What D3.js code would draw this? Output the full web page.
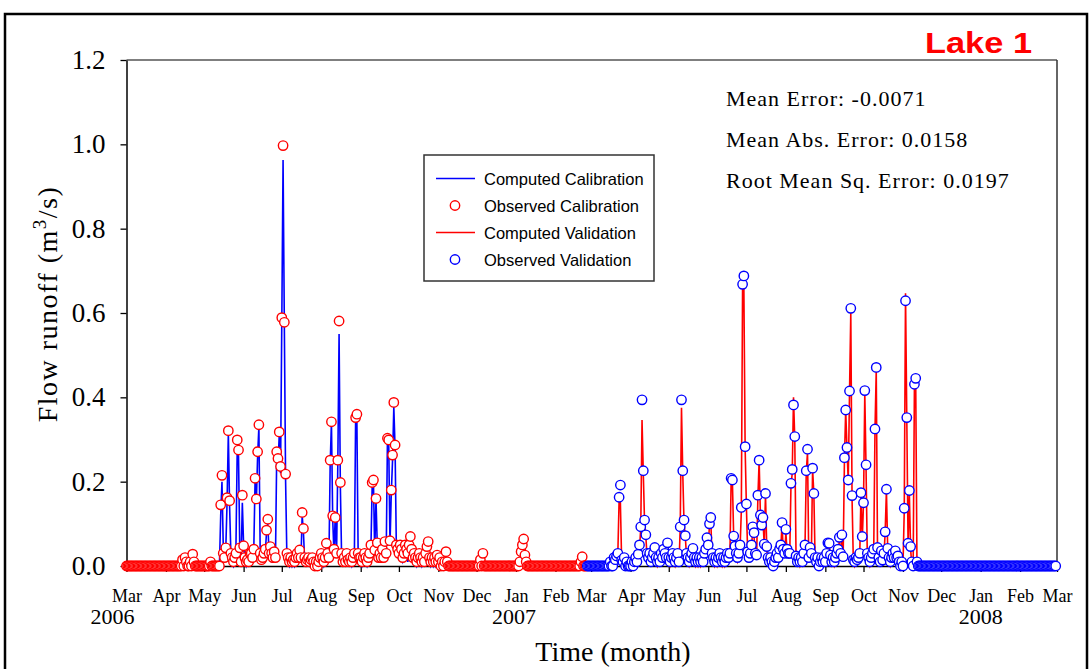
<!DOCTYPE html>
<html><head><meta charset="utf-8">
<script src="https://cdn.jsdelivr.net/npm/d3@7"></script>
<style>body{margin:0;background:#fff}svg{display:block}</style>
</head><body><svg id="c" width="1090" height="669"></svg>
<script>
// ---------- DATA (daily values, m3/s) ----------
const calRowStart = ["2006-03-01","2006-04-01","2006-05-01","2006-06-01","2006-07-01","2006-08-01",
  "2006-09-01","2006-10-01","2006-11-01","2006-12-01","2007-01-01","2007-02-01"];
const obsCalRows = [
 [0,0,0,0,0,0,0,0,0,0, 0,0,0,0,0,0,0,0,0,0, 0,0,0,0,0,0,0,0,0,0, 0],
 [0,0,0,0,0,0,0,0,0,0, 0,0,0,.015,0,.02,.01,0,0,.01, 0,.028,.01,0,0,0,0,0,0,0],
 [0,0,0,0,0,.01,0,0,0,0, 0,0,0,.145,.215,.03,.02,.043,.162,.321, .155,.03,.02,.01,.02,.03,.299,.275,.043,.01, .168],
 [.048,.02,.01,.015,.01,.03,.03,.02,.04,.208, .159,.271,.335,.03,.015,.02,.03,.04,.085,.111, .03,.046,.03,.02,.034,.02,.271,.255,.318,.236],
 [.589,.997,.578,.218,.03,.02,.01,.02,.01,.015, .01,.02,.03,.02,.038,.02,.127,.089,.02,.01, .015,.02,.01,.015,.02,.01,0,.01,0,.01, .02],
 [.03,.02,.01,.02,.054,.03,.02,.251,.342,.119, .04,.115,.03,.251,.581,.198,.03,.01,.02,.01, .03,.015,.01,.02,.01,.02,.03,.352,.36,.03, .02],
 [.02,.01,.02,.03,.02,.01,.02,.03,.05,.198, .204,.038,.16,.055,.02,.03,.02,.04,.02,.058, .03,.303,.299,.06,.18,.263,.388,.287,.05,.04],
 [.03,.05,.04,.02,.03,.05,.04,.03,.05,.07, .04,.02,.03,.02,.01,.02,.03,.02,.01,.02, .01,.03,.046,.058,.02,.01,.02,.01,.02,.01, .026],
 [.01,.02,0,.01,0,.01,.034,.01,0,0, 0,0,0,0,0,0,0,0,0,0, 0,0,0,0,0,0,0,0,0,0],
 [0,0,0,.015,0,.03,0,0,0,0, 0,0,0,0,0,0,0,0,0,0, 0,0,0,0,0,0,0,0,0,0, 0],
 [0,0,0,.01,.034,.05,.064,.026,.01,0, 0,0,0,0,0,0,0,0,0,0, 0,0,0,0,0,0,0,0,0,0, 0],
 [0,0,0,0,0,0,0,0,0,0, 0,0,0,0,0,0,0,0,0,0, .01,.022,0,0,0]
];
const compCalRows = [
 [0,0,0,0,0,0,0,0,0,0, 0,0,0,0,0,0,0,0,0,0, 0,0,0,0,0,0,0,0,0,0, 0],
 [0,0,0,0,0,0,0,0,0,0, 0,0,0,0,0,0,0,0,0,0, 0,0,0,0,0,0,0,0,0,0],
 [0,0,0,0,0,0,0,0,0,0, 0,0,0,.12,.2,.05,.02,.04,.15,.315, .14,.03,.01,0,.01,.05,.28,.26,.04,.01, .15],
 [.05,.01,0,.01,0,.02,.02,.01,.04,.2, .15,.26,.33,.04,.01,.01,.02,.03,.08,.1, .03,.04,.01,.01,.03,.01,.26,.24,.31,.22],
 [.58,.963,.57,.2,.02,.01,0,.01,0,.01, 0,.01,.02,.01,.03,.01,.12,.08,.01,0, 0,.01,0,0,.01,0,0,0,0,0, .01],
 [.02,.01,0,.01,.05,.01,.01,.24,.34,.11, .03,.12,.02,.24,.55,.19,.02,0,.01,0, .02,0,0,.01,0,.01,.02,.35,.34,.02, .01],
 [.01,0,.01,.02,.01,0,.01,.02,.04,.19, .2,.03,.16,.05,.01,.02,.01,.03,.01,.05, .02,.3,.29,.05,.17,.25,.377,.28,.04,.02],
 [.02,.03,.02,.01,.02,.03,.02,.01,.03,.05, .02,.01,.01,.01,0,.01,.01,.01,0,.01, 0,.02,.04,.04,.01,0,.01,0,.01,0, .01],
 [0,.01,0,0,0,0,.02,0,0,0, 0,0,0,0,0,0,0,0,0,0, 0,0,0,0,0,0,0,0,0,0],
 [0,0,0,0,0,.01,0,0,0,0, 0,0,0,0,0,0,0,0,0,0, 0,0,0,0,0,0,0,0,0,0, 0],
 [0,0,0,0,.02,.02,.03,.01,0,0, 0,0,0,0,0,0,0,0,0,0, 0,0,0,0,0,0,0,0,0,0, 0],
 [0,0,0,0,0,0,0,0,0,0, 0,0,0,0,0,0,0,0,0,0, 0,0,0,0,0]
];
const valRowStart = ["2007-02-26","2007-03-01","2007-04-01","2007-05-01","2007-06-01","2007-07-01",
  "2007-08-01","2007-09-01","2007-10-01","2007-11-01","2007-12-01","2008-01-01","2008-02-01"];
const obsValRows = [
 [0,0,0],
 [0,0,0,0,0,0,0,0,0,0, 0,0,0,0,0,.01,0,0,.02,.015, .024,.03,.163,.192,.014,.01,.02,0,.01,0, 0],
 [0,.01,0,.01,.02,.01,.028,.05,.093,.394, .226,.109,.074,.03,.02,.03,.01,.02,.03,.044, .02,.01,.02,.01,.03,.02,.04,.03,.02,.055],
 [.02,.01,.02,.03,.02,.01,.02,.03,.01,.093, .394,.226,.109,.072,.03,.02,.01,.02,.03,.042, .02,.01,.02,.01,.02,.01,.02,.01,.03,.04, .067],
 [.05,.1,.115,.03,.02,.01,.02,.01,.02,.03, .02,.01,.02,.01,.02,.03,.02,.03,.208,.204, .071,.047,.03,.02,.03,.05,.139,.668,.688,.283],
 [.147,.034,.02,.03,.05,.093,.079,.03,.026,.168, .251,.121,.097,.115,.052,.172,.046,.02,.01,.02, .01,0,.01,.02,.03,.02,.04,.05,.103,.04, .03],
 [.087,.04,.03,.03,.196,.229,.382,.307,.024,.01, .02,.01,.02,.01,.03,.05,.226,.277,.02,.044, .03,.232,.172,.02,.01,.02,0,.01,.02,.01, .02],
 [.01,.03,.055,.054,.026,.01,.02,.01,.02,.03, .04,.068,.03,.074,.022,.257,.37,.281,.204,.415, .611,.167,.015,.01,.02,.015,.02,.03,.174,.07],
 [.15,.416,.24,.03,.02,.01,.02,.03,.04,.325, .471,.044,.02,.01,.036,.014,.03,.081,.182,.042, .02,.01,.02,.03,.02,.036,.02,.024,.01,0, .01],
 [0,.137,.629,.352,.054,.179,.046,.01,0,.431, .445,.01,0,0,0,0,0,0,0,0, 0,0,0,0,0,0,0,0,0,0],
 [0,0,0,0,0,0,0,0,0,0, 0,0,0,0,0,0,0,0,0,0, 0,0,0,0,0,0,0,0,0,0, 0],
 [0,0,0,0,0,0,0,0,0,0, 0,0,0,0,0,0,0,0,0,0, 0,0,0,0,0,0,0,0,0,0, 0],
 [0,0,0,0,0,0,0,0,0,0, 0,0,0,0,0,0,0,0,0,0, 0,0,0,0,0,0,0,0,0]
];
const compValRows = [
 [0,0,0],
 [0,0,0,0,0,0,0,0,0,0, 0,0,0,0,0,0,0,0,.01,.01, .02,.03,.157,.15,.01,0,.01,0,0,0, 0],
 [0,0,0,0,.01,0,.02,.04,.09,.346, .22,.1,.07,.02,.01,.02,0,.01,.02,.04, .01,0,.01,0,.02,.01,.03,.02,.01,.05],
 [.01,0,.01,.02,.01,0,.01,.02,0,.09, .375,.22,.1,.07,.02,.01,0,.01,.02,.04, .01,0,.01,0,.01,0,.01,0,.02,.03, .06],
 [.04,.1,.11,.02,.01,0,.01,0,.01,.02, .01,0,.01,0,.01,.02,.01,.02,.2,.2, .07,.04,.02,.01,.02,.04,.13,.666,.66,.28],
 [.14,.03,.01,.02,.04,.09,.07,.02,.02,.16, .25,.12,.09,.11,.05,.17,.04,.01,0,.01, 0,0,0,.01,.02,.01,.03,.04,.1,.03, .02],
 [.08,.03,.02,.02,.19,.22,.40,.3,.02,0, .01,0,.01,0,.02,.04,.22,.27,.01,.04, .02,.23,.17,.01,0,.01,0,0,.01,0, .01],
 [0,.02,.05,.05,.02,0,.01,0,.01,.02, .03,.06,.02,.07,.02,.25,.37,.28,.2,.41, .6,.16,.01,0,.01,.01,.01,.02,.17,.06],
 [.15,.41,.23,.02,.01,0,.01,.02,.03,.32, .465,.04,.01,0,.03,.01,.02,.08,.18,.04, .01,0,.01,.02,.01,.03,.01,.02,0,0, 0],
 [0,.13,.647,.35,.05,.17,.04,0,0,.43, .44,0,0,0,0,0,0,0,0,0, 0,0,0,0,0,0,0,0,0,0],
 [0,0,0,0,0,0,0,0,0,0, 0,0,0,0,0,0,0,0,0,0, 0,0,0,0,0,0,0,0,0,0, 0],
 [0,0,0,0,0,0,0,0,0,0, 0,0,0,0,0,0,0,0,0,0, 0,0,0,0,0,0,0,0,0,0, 0],
 [0,0,0,0,0,0,0,0,0,0, 0,0,0,0,0,0,0,0,0,0, 0,0,0,0,0,0,0,0,0]
];
const yTicks = [0, 0.2, 0.4, 0.6, 0.8, 1.0, 1.2];
const yearLabels = [["2006","2006-03-01",-14],["2007","2007-01-01",-2],["2008","2008-01-01",0]];
const legendLabels = ["Computed Calibration","Observed Calibration","Computed Validation","Observed Validation"];
const statLines = ["Mean Error: -0.0071","Mean Abs. Error: 0.0158","Root Mean Sq. Error: 0.0197"];
const titleText = "Lake 1";

// ---------- BUILD ----------
const parse = d3.utcParse("%Y-%m-%d");
function expand(starts, rows){
  const out = [];
  starts.forEach((s,i)=>{ const d0 = parse(s);
    rows[i].forEach((v,j)=> out.push({date: d3.utcDay.offset(d0,j), value: v})); });
  return out;
}
const obsCal = expand(calRowStart, obsCalRows), compCal = expand(calRowStart, compCalRows);
const obsVal = expand(valRowStart, obsValRows), compVal = expand(valRowStart, compValRows);

const serif = "'Times New Roman','Liberation Serif',serif";
const sans = "Arial,'Liberation Sans',sans-serif";
const BLUE = "#0000ff", RED = "#ff0000";

const svg = d3.select("#c");
svg.append("rect").attr("width",1090).attr("height",669).attr("fill","#fff");
// outer frame
svg.append("rect").attr("x",5).attr("y",14).attr("width",1082).attr("height",680)
  .attr("fill","none").attr("stroke","#000").attr("stroke-width",2.5);

const x = d3.scaleUtc().domain([parse("2006-03-01"), parse("2008-03-01")]).range([126.5, 1057]);
const y = d3.scaleLinear().domain([0, 1.2]).range([566, 60]);

// plot box top and right
svg.append("line").attr("x1",126.5).attr("x2",1057).attr("y1",60).attr("y2",60)
  .attr("stroke","#555").attr("stroke-width",1.5);
svg.append("line").attr("x1",1057).attr("x2",1057).attr("y1",60).attr("y2",566)
  .attr("stroke","#333").attr("stroke-width",1.5);

// axes
const months = d3.utcMonth.range(parse("2006-03-01"), d3.utcDay.offset(parse("2008-03-01"),1));
const gx = svg.append("g").attr("transform","translate(0,566)")
  .call(d3.axisBottom(x).tickValues(months).tickFormat(d3.utcFormat("%b")).tickSizeInner(6).tickSizeOuter(0).tickPadding(17));
gx.selectAll("text").attr("font-family",serif).attr("font-size",18).attr("fill","#000");
gx.select(".domain").attr("stroke","#000").attr("stroke-width",1.5);
gx.selectAll(".tick line").attr("stroke","#000").attr("stroke-width",1.3);

const gy = svg.append("g").attr("transform","translate(126.5,0)")
  .call(d3.axisLeft(y).tickValues(yTicks).tickFormat(d3.format(".1f")).tickSizeInner(6).tickSizeOuter(0).tickPadding(15));
gy.selectAll("text").attr("font-family",serif).attr("font-size",27).attr("fill","#000");
gy.select(".domain").attr("stroke","#000").attr("stroke-width",1.5);
gy.selectAll(".tick line").attr("stroke","#000").attr("stroke-width",1.3);

// year labels
svg.append("g").selectAll("text").data(yearLabels).join("text")
  .attr("x", d => x(parse(d[1])) + d[2]).attr("y", 624).attr("text-anchor","middle")
  .attr("font-family",serif).attr("font-size",22).text(d => d[0]);

// axis titles
svg.append("text").attr("x",613).attr("y",661).attr("text-anchor","middle")
  .attr("font-family",serif).attr("font-size",28).text("Time (month)");
const yt = svg.append("text").attr("transform","translate(57,304) rotate(-90)").attr("text-anchor","middle")
  .attr("font-family",serif).attr("font-size",28).attr("letter-spacing",1.5);
yt.append("tspan").text("Flow runoff (m");
yt.append("tspan").attr("dy",-11).attr("font-size",19).text("3");
yt.append("tspan").attr("dy",11).text("/s)");

// title
svg.append("text").attr("x",925).attr("y",53).attr("font-family",sans).attr("font-weight","bold")
  .attr("font-size",30).attr("fill",RED).attr("textLength",107).attr("lengthAdjust","spacingAndGlyphs").text(titleText);

// stats
svg.append("g").selectAll("text").data(statLines).join("text")
  .attr("x",726).attr("y",(d,i)=>106+i*41).attr("font-family",serif).attr("font-size",22)
  .attr("letter-spacing",1).text(d=>d);

// series
const line = d3.line().x(d=>x(d.date)).y(d=>y(d.value));
const plot = svg.append("g");
plot.append("path").datum(compCal).attr("d",line).attr("fill","none").attr("stroke",BLUE).attr("stroke-width",1.6);
plot.append("g").selectAll("circle").data(obsCal).join("circle")
  .attr("cx",d=>x(d.date)).attr("cy",d=>y(d.value)).attr("r",4.7)
  .attr("fill","#fff").attr("stroke",RED).attr("stroke-width",1.4);
plot.append("path").datum(compVal).attr("d",line).attr("fill","none").attr("stroke",RED).attr("stroke-width",1.6);
plot.append("g").selectAll("circle").data(obsVal).join("circle")
  .attr("cx",d=>x(d.date)).attr("cy",d=>y(d.value)).attr("r",4.7)
  .attr("fill","#fff").attr("stroke",BLUE).attr("stroke-width",1.4);

// legend
const lg = svg.append("g");
lg.append("rect").attr("x",424).attr("y",155).attr("width",230).attr("height",126)
  .attr("fill","#fff").attr("stroke","#333").attr("stroke-width",1.5);
const legendStyle = [["line",BLUE],["circle",RED],["line",RED],["circle",BLUE]];
legendLabels.forEach((t,i)=>{
  const cy = 178.5 + i*27;
  if (legendStyle[i][0]==="line")
    lg.append("line").attr("x1",436).attr("x2",475).attr("y1",cy).attr("y2",cy).attr("stroke",legendStyle[i][1]).attr("stroke-width",1.5);
  else
    lg.append("circle").attr("cx",455).attr("cy",cy).attr("r",4.7).attr("fill","#fff").attr("stroke",legendStyle[i][1]).attr("stroke-width",1.4);
  lg.append("text").attr("x",484).attr("y",cy+6).attr("font-family",sans).attr("font-size",16.5).text(t);
});
</script></body></html>
